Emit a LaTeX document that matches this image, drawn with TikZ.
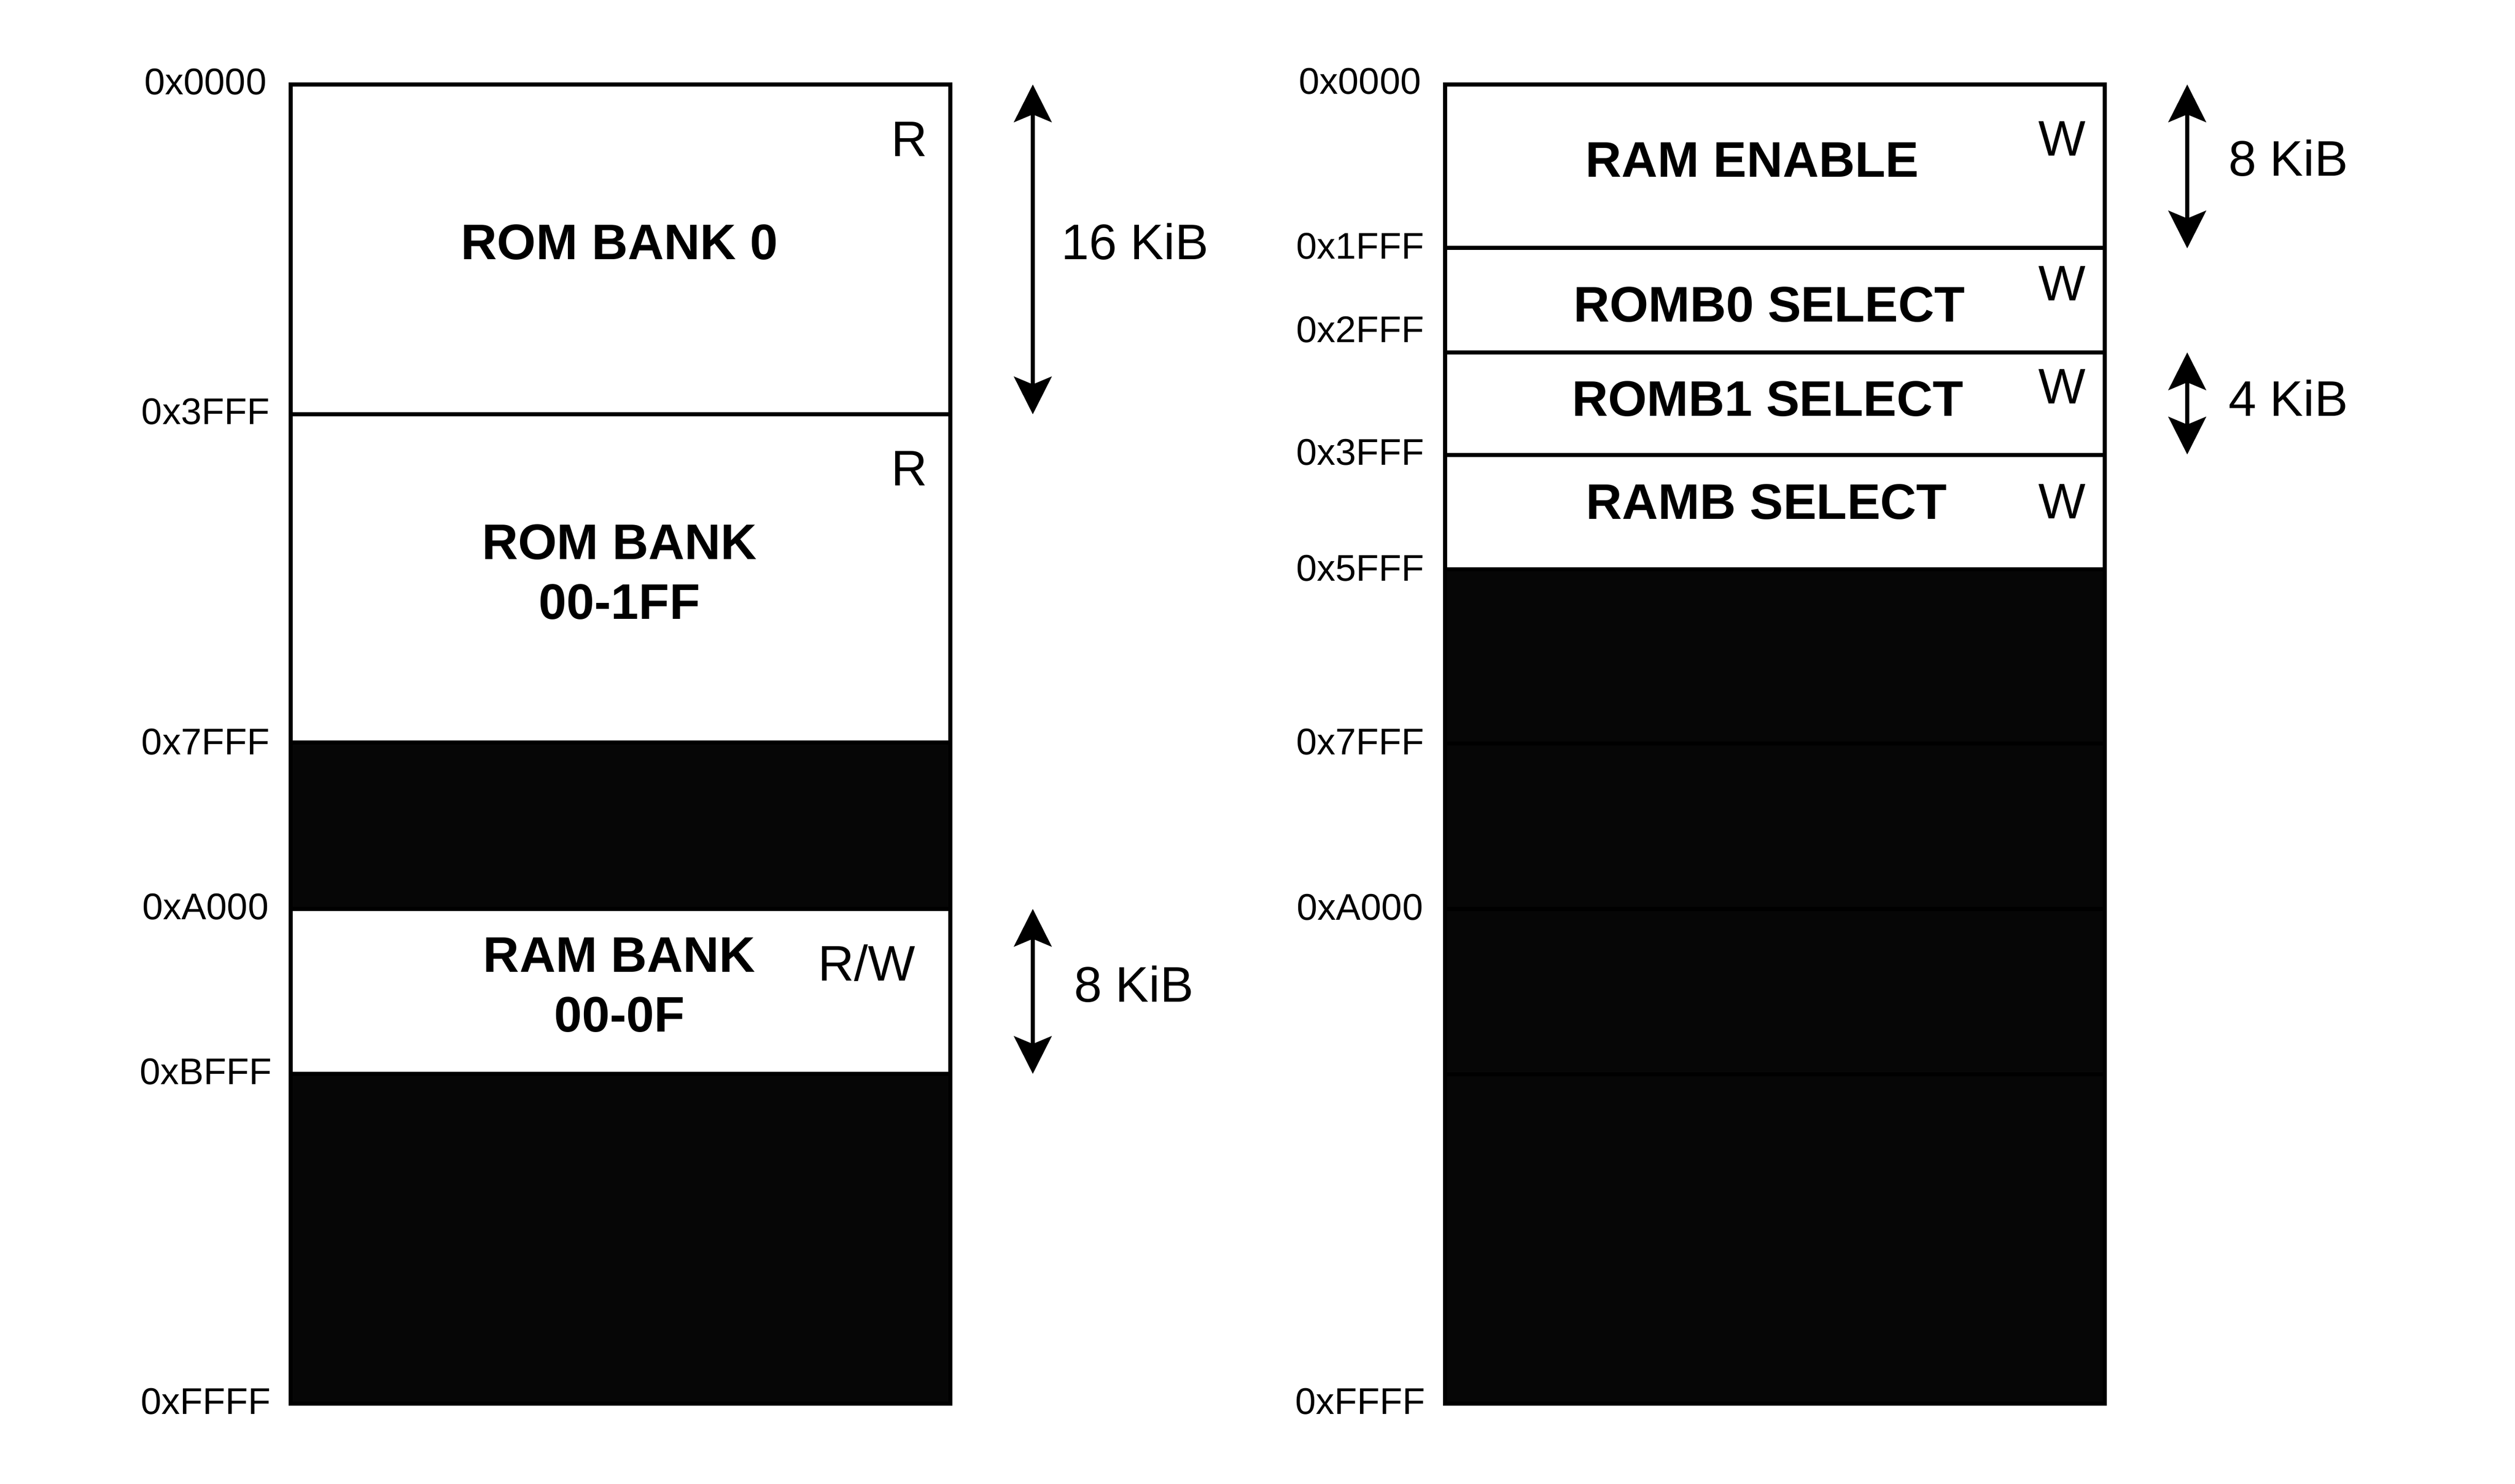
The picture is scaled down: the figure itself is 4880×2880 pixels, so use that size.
\documentclass[tikz,border=0pt]{standalone}
\usepackage{fontspec}
\setmainfont{Liberation Sans}
\usetikzlibrary{arrows.meta}
\definecolor{voidfill}{RGB}{6,6,6}
\begin{document}
\begin{tikzpicture}[x=0.1pt,y=-0.1pt,
  membox/.style={draw=black, line width=0.77pt, fill=white, inner sep=0pt, outer sep=0pt, minimum width=128pt},
  voidbox/.style={membox, fill=voidfill},
  addr/.style={font=\fontsize{7.2}{8.6}\selectfont, anchor=base, inner sep=0pt},
  title/.style={font=\fontsize{9.7}{11.6}\selectfont\bfseries, anchor=base, inner sep=0pt, align=center},
  acc/.style={font=\fontsize{9.7}{11.6}\selectfont, anchor=base, inner sep=0pt},
  sizelbl/.style={font=\fontsize{9.7}{11.6}\selectfont, anchor=base, inner sep=0pt},
  tipa/.tip={Stealth[length=7.3pt,width=7.3pt,inset=1.5pt]},
  dim/.style={line width=0.77pt, tipa-tipa}
]
\useasboundingbox (0,0) rectangle (4880,2880);

% ---------- left map ----------
\node[membox, minimum height=64pt]   (rom0)  at (1204,484)   {};
\node[membox, minimum height=63.7pt] (romx)  at (1204,1122.5) {};
\node[voidbox, minimum height=32.3pt] (lvoid1) at (1204,1602.5) {};
\node[membox, minimum height=32pt]   (rambk) at (1204,1924)  {};
\node[voidbox, minimum height=64pt]  (lvoid2) at (1204,2404) {};

\node[addr] (la0) at (399,184)  {0x0000};
\node[addr] (la1) at (399,824)  {0x3FFF};
\node[addr] (la2) at (399,1465) {0x7FFF};
\node[addr] (la3) at (399,1785) {0xA000};
\node[addr] (la4) at (399,2105) {0xBFFF};
\node[addr] (la5) at (399,2745) {0xFFFF};

\node[title] (t0) at (1202,504)  {ROM BANK 0};
\node[title] (t1) at (1202,1202) {ROM BANK\\00-1FF};
\node[title] (t2) at (1202,2003) {RAM BANK\\00-0F};

\node[acc] (r0) at (1765,304)  {R};
\node[acc] (r1) at (1765,943)  {R};
\node[acc] (r2) at (1682,1904) {R/W};

\coordinate (a1t) at (2004,164);
\coordinate (a1b) at (2004,804);
\coordinate (a2t) at (2004,1764);
\coordinate (a2b) at (2004,2084);
\draw[dim] (a1t) -- (a1b);
\draw[dim] (a2t) -- (a2b);
\node[sizelbl] (s0) at (2202,504)  {16 KiB};
\node[sizelbl] (s1) at (2200,1945) {8 KiB};

% ---------- right map ----------
\node[membox, minimum height=31.7pt] (ramen) at (3444,322.5) {};
\node[membox, minimum height=20.3pt] (romb0) at (3444,582.5) {};
\node[membox, minimum height=19.9pt] (romb1) at (3444,783.5) {};
\node[membox, minimum height=22.2pt] (rambs) at (3444,994)   {};
\node[voidbox, minimum height=33.8pt] (rvoid1) at (3444,1274)   {};
\node[voidbox, minimum height=32.1pt] (rvoid2) at (3444,1603.5) {};
\node[voidbox, minimum height=32.1pt] (rvoid3) at (3444,1924.5) {};
\node[voidbox, minimum height=63.9pt] (rvoid4) at (3444,2404.5) {};

\node[addr] (ra0) at (2639,183)  {0x0000};
\node[addr] (ra1) at (2639,503)  {0x1FFF};
\node[addr] (ra2) at (2639,665)  {0x2FFF};
\node[addr] (ra3) at (2639,903)  {0x3FFF};
\node[addr] (ra4) at (2639,1128) {0x5FFF};
\node[addr] (ra5) at (2639,1465) {0x7FFF};
\node[addr] (ra6) at (2639,1786) {0xA000};
\node[addr] (ra7) at (2639,2745) {0xFFFF};

\node[title] (rt0) at (3400,344)  {RAM ENABLE};
\node[title] (rt1) at (3433,625)  {ROMB0 SELECT};
\node[title] (rt2) at (3430,808)  {ROMB1 SELECT};
\node[title] (rt3) at (3428,1008) {RAMB SELECT};

\node[acc] (w0) at (4001,303)  {W};
\node[acc] (w1) at (4001,584)  {W};
\node[acc] (w2) at (4001,784)  {W};
\node[acc] (w3) at (4001,1007) {W};

\coordinate (a3t) at (4244,164);
\coordinate (a3b) at (4244,482);
\coordinate (a4t) at (4244,684);
\coordinate (a4b) at (4244,882);
\draw[dim] (a3t) -- (a3b);
\draw[dim] (a4t) -- (a4b);
\node[sizelbl] (s2) at (4440,342) {8 KiB};
\node[sizelbl] (s3) at (4440,808) {4 KiB};
\end{tikzpicture}
\end{document}
